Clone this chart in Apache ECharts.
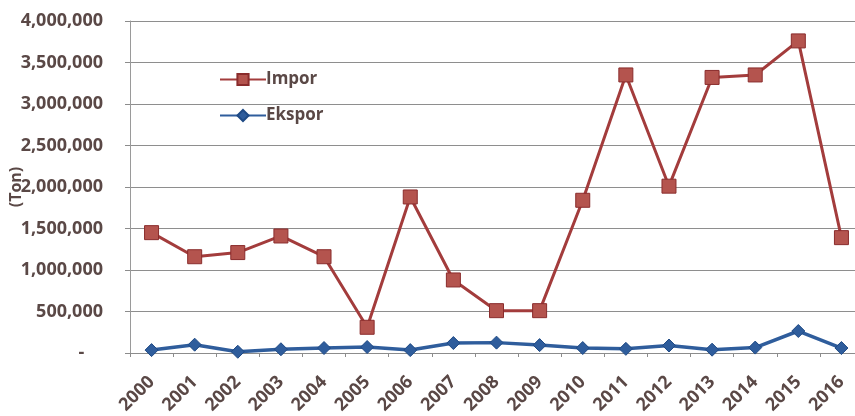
<!DOCTYPE html>
<html>
<head>
<meta charset="utf-8">
<script src="https://cdn.jsdelivr.net/npm/echarts@6/dist/echarts.min.js"></script>
<style>html,body{margin:0;padding:0;background:#fff;}#c{width:855px;height:416px;}</style>
</head>
<body>
<div id="c"></div>
<script>
const years = ["2000","2001","2002","2003","2004","2005","2006","2007","2008","2009","2010","2011","2012","2013","2014","2015","2016"];
const impor = [1450000,1160000,1210000,1410000,1160000,310000,1880000,880000,510000,510000,1840000,3350000,2010000,3320000,3350000,3760000,1390000];
const ekspor = [35000,100000,15000,45000,60000,72000,35000,120000,125000,95000,60000,50000,90000,40000,65000,265000,60000];
const yTicks = { min: 0, max: 4000000, interval: 500000 };
const yName = "(Ton)";

const textColor = "#5a4846";
const font = "Open Sans";
const chart = echarts.init(document.getElementById('c'), null, {renderer: 'canvas'});
chart.setOption({
  backgroundColor: '#ffffff',
  animation: false,
  grid: { left: 130, top: 21, bottom: 63, width: 733, containLabel: false, outerBoundsMode: 'none' },
  legend: {
    orient: 'vertical', left: 214, top: 66, itemGap: 19,
    itemWidth: 46, itemHeight: 14,
    textStyle: { color: textColor, fontFamily: font, fontWeight: 'bold', fontSize: 17, padding: [0,0,0,-5] },
    data: ['Impor', 'Ekspor']
  },
  xAxis: {
    type: 'category', data: years, boundaryGap: true,
    axisLine: { lineStyle: { color: '#8c8c8c', width: 1 } },
    axisTick: { show: true, alignWithLabel: false, length: 4, lineStyle: { color: '#8c8c8c' } },
    axisLabel: { rotate: 45, margin: 26, color: textColor, fontFamily: font, fontWeight: 'bold', fontSize: 18 }
  },
  yAxis: {
    type: 'value', min: yTicks.min, max: yTicks.max, interval: yTicks.interval,
    name: yName, nameLocation: 'middle', nameGap: 106, nameRotate: 90, nameMoveOverlap: false,
    nameTextStyle: { color: textColor, fontFamily: font, fontWeight: 'bold', fontSize: 16 },
    axisLine: { show: true, lineStyle: { color: '#9a9a9a' } },
    axisTick: { show: true, length: 5, lineStyle: { color: '#8c8c8c' } },
    splitLine: { lineStyle: { color: '#8e8e8e', width: 1.2 } },
    axisLabel: {
      margin: 27, color: textColor, fontFamily: font, fontWeight: 'bold', fontSize: 18,
      formatter: v => v === 0 ? '-    ' : v.toLocaleString('en-US')
    }
  },
  series: [
    {
      name: 'Impor', type: 'line', data: impor,
      symbol: 'rect', symbolSize: 14,
      lineStyle: { color: '#a33c3c', width: 3 },
      itemStyle: { color: '#b4544e', borderColor: '#8a2c2c', borderWidth: 1 },
      z: 3
    },
    {
      name: 'Ekspor', type: 'line', data: ekspor,
      symbol: 'diamond', symbolSize: 13,
      lineStyle: { color: '#2f5d9c', width: 3.5 },
      itemStyle: { color: '#2f5d9c', borderColor: '#1f4a85', borderWidth: 1 },
      z: 4
    }
  ]
});
</script>
</body>
</html>
